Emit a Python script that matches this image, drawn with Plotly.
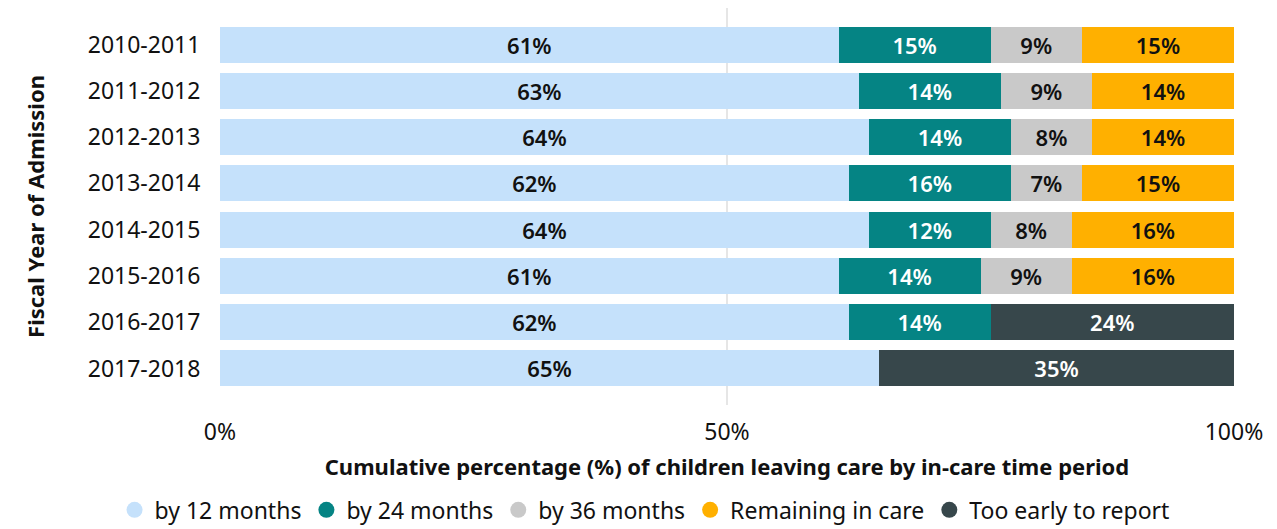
import plotly.graph_objects as go

years = ["2010-2011", "2011-2012", "2012-2013", "2013-2014",
         "2014-2015", "2015-2016", "2016-2017", "2017-2018"]
series_names = ["by 12 months", "by 24 months", "by 36 months",
                "Remaining in care", "Too early to report"]
by12 = [61, 63, 64, 62, 64, 61, 62, 65]
by24 = [15, 14, 14, 16, 12, 14, 14, None]
by36 = [9, 9, 8, 7, 8, 9, None, None]
remaining = [15, 14, 14, 15, 16, 16, None, None]
too_early = [None, None, None, None, None, None, 24, 35]
x_ticks = [0, 50, 100]
x_tick_labels = ["0%", "50%", "100%"]

colors = ["#C5E1FB", "#058484", "#C9C9C9", "#FFB000", "#37474B"]
text_colors = ["#111111", "#FFFFFF", "#111111", "#111111", "#FFFFFF"]
FONT = "Noto Sans"

fig = go.Figure()
for name, vals, c, tc in zip(series_names, [by12, by24, by36, remaining, too_early],
                             colors, text_colors):
    fig.add_trace(go.Bar(
        y=years, x=vals, orientation="h", name=name,
        marker=dict(color=c, line=dict(width=0)),
        text=[f"{v}%" if v is not None else "" for v in vals],
        textposition="inside", insidetextanchor="middle",
        textfont=dict(family=FONT, size=22, color=tc, weight=600),
        constraintext="none", showlegend=False, hoverinfo="skip",
    ))
    fig.add_trace(go.Scatter(
        x=[None], y=[None], mode="markers", name=name,
        marker=dict(symbol="circle", size=19, color=c),
        showlegend=True,
    ))

fig.update_layout(
    barmode="stack", bargap=0.22,
    width=1269, height=521,
    margin=dict(l=212, r=43, t=0, b=124, autoexpand=False),
    plot_bgcolor="white", paper_bgcolor="white",
    font=dict(family=FONT, size=23, color="#111111"),
    legend=dict(orientation="h", traceorder="normal",
                x=-0.104, xanchor="left", y=-0.21, yanchor="top",
                font=dict(size=23), itemsizing="trace", itemwidth=30,
                tracegroupgap=0),
)
fig.update_xaxes(
    range=[0, 100], tickvals=x_ticks, ticktext=x_tick_labels,
    showgrid=True, gridcolor="#E6E6E6", gridwidth=2, zeroline=False,
    ticks="outside", ticklen=6, tickcolor="rgba(0,0,0,0)",
    tickfont=dict(size=23), automargin=False,
    title=dict(text="<b>Cumulative percentage (%) of children leaving care by in-care time period</b>",
               font=dict(size=22), standoff=14),
)
fig.update_yaxes(
    categoryorder="array", categoryarray=years,
    range=[7.79, -0.79], showgrid=False, zeroline=False,
    ticks="outside", ticklen=14, tickcolor="rgba(0,0,0,0)",
    tickfont=dict(size=23), automargin=False,
    title=dict(text="<b>Fiscal Year of Admission</b>", font=dict(size=22), standoff=37),
)

fig.write_html("out.html")
